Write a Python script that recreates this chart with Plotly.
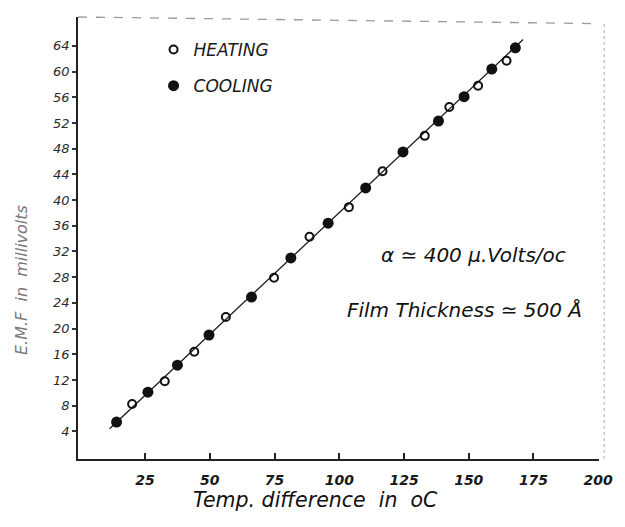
import plotly.graph_objects as go

# Heating run (open circles): temperature difference (oC) and EMF (mV)
heat_dt = [20.0, 32.6, 44.0, 56.2, 74.8, 88.5, 103.7, 116.7, 133.0, 142.5, 153.6, 164.6]
heat_emf = [8.26, 11.8, 16.4, 21.8, 27.9, 34.3, 38.9, 44.5, 50.0, 54.5, 57.8, 61.7]

# Cooling run (filled circles)
cool_dt = [14.0, 26.1, 37.5, 49.7, 66.1, 81.3, 95.7, 110.2, 124.6, 138.3, 148.2, 158.9, 168.0]
cool_emf = [5.45, 10.1, 14.3, 19.0, 24.9, 31.0, 36.4, 41.9, 47.5, 52.3, 56.1, 60.4, 63.7]

# Straight line drawn through both runs
fit_dt = [11.3, 171.0]
fit_emf = [4.4, 65.0]

x_ticks = [25, 50, 75, 100, 125, 150, 175, 200]
y_ticks = [4, 8, 12, 16, 20, 24, 28, 32, 36, 40, 44, 48, 52, 56, 60, 64]

hand = "DejaVu Sans"

fig = go.Figure()

fig.add_trace(go.Scatter(
    x=fit_dt, y=fit_emf, mode="lines",
    line=dict(color="#1a1a1a", width=1.3),
    showlegend=False, hoverinfo="skip",
))
fig.add_trace(go.Scatter(
    x=heat_dt, y=heat_emf, mode="markers", name="HEATING",
    legendgroup="h",
    marker=dict(symbol="circle-open", size=8, color="#111111",
                line=dict(width=2, color="#111111")),
))
fig.add_trace(go.Scatter(
    x=cool_dt, y=cool_emf, mode="markers", name="COOLING",
    legendgroup="c",
    marker=dict(symbol="circle", size=11, color="#111111"),
))

fig.update_layout(
    width=625, height=527,
    paper_bgcolor="white", plot_bgcolor="white",
    margin=dict(l=78, r=18, t=17, b=68),
    font=dict(family=hand, color="#1a1a1a"),
    showlegend=True,
    legend=dict(
        x=0.145, y=0.966, xanchor="left", yanchor="top",
        bgcolor="rgba(0,0,0,0)", tracegroupgap=11,
        font=dict(size=17, family=hand, style="italic", color="#1a1a1a"),
        itemsizing="trace",
    ),
    xaxis=dict(
        range=[-0.9, 200.3],
        tickvals=x_ticks, ticktext=[str(v) for v in x_ticks],
        ticks="inside", ticklen=6, tickwidth=1.5, tickcolor="#222222",
        showline=True, linecolor="#222222", linewidth=1.6,
        showgrid=False, zeroline=False,
        tickfont=dict(size=14, family=hand, weight="bold", style="italic", color="#1a1a1a"),
        ticklabelstandoff=7,
    ),
    yaxis=dict(
        range=[-0.3, 68.5],
        tickvals=y_ticks, ticktext=[str(v) for v in y_ticks],
        ticks="outside", ticklen=4, tickwidth=1.5, tickcolor="#333333",
        showline=True, linecolor="#222222", linewidth=1.6,
        showgrid=False, zeroline=False,
        tickfont=dict(size=13, family=hand, style="italic", color="#2a2a2a"),
    ),
    shapes=[
        dict(type="line", xref="paper", yref="paper", x0=0, x1=1.0, y0=1.0, y1=0.985,
             line=dict(color="#999999", width=1.3, dash="dash")),
        dict(type="line", xref="paper", yref="paper", x0=1.01, x1=1.01, y0=0.0, y1=0.985,
             line=dict(color="#bbbbbb", width=1.2, dash="dot")),
    ],
    annotations=[
        # axis titles
        dict(text="Temp. difference  in  oC", xref="paper", yref="paper",
             x=0.455, y=0, yshift=-41, xanchor="center", yanchor="middle",
             showarrow=False,
             font=dict(size=20.5, family=hand, style="italic", color="#111111")),
        dict(text="E.M.F  in  millivolts", xref="paper", yref="paper",
             x=0, y=0.405, xshift=-56, xanchor="center", yanchor="middle",
             textangle=-90, showarrow=False,
             font=dict(size=16, family=hand, style="italic", color="#777777")),
        # notes on the plot
        dict(text="α ≃ 400 μ.Volts/oc", xref="paper", yref="paper",
             x=0.578, y=0.462, xanchor="left", yanchor="middle", showarrow=False,
             font=dict(size=20, family=hand, style="italic", color="#111111")),
        dict(text="Film Thickness ≃ 500 Å", xref="paper", yref="paper",
             x=0.513, y=0.337, xanchor="left", yanchor="middle", showarrow=False,
             font=dict(size=20, family=hand, style="italic", color="#111111")),
    ],
)

fig.write_html("out.html")
